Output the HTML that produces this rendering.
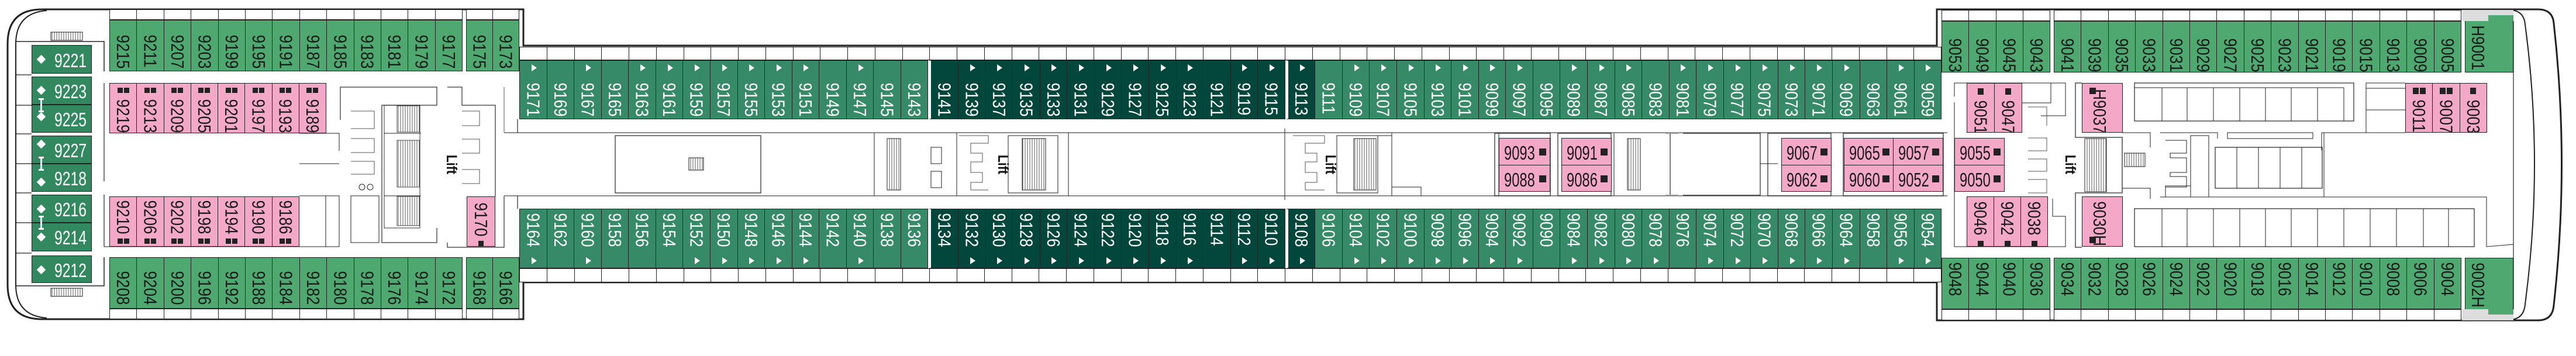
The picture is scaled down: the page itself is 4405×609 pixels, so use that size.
<!DOCTYPE html>
<html><head><meta charset="utf-8">
<style>
*{margin:0;padding:0;box-sizing:border-box}
body{width:4405px;height:609px;background:#fff;position:relative;overflow:hidden;font-family:"Liberation Sans",sans-serif}
svg{position:absolute;left:0;top:0}
.row{position:absolute;display:flex}
.row>div{flex:1;border:1px solid #222;border-left:none;position:relative;display:flex;flex-direction:column;align-items:center;overflow:hidden}
.row>div:first-child{border-left:1px solid #222}
.s>div{background:#fff}
.g>div{background:#4ea870;color:#1a1a1a}
.m>div{background:#378a68;color:#fff}
.m>div.d{background:#03473c}
.m>div.w{border-left:5px solid #fff}
.p>div{background:#f3a8c8;color:#1a1a1a}
.v{writing-mode:vertical-rl;font-size:31px;line-height:1;transform:scaleY(.84);white-space:nowrap}
.t{position:absolute;left:50%;margin-left:-3px;width:0;height:0;border-left:9px solid #fff;border-top:6px solid transparent;border-bottom:6px solid transparent}
.sq{display:flex;gap:2px}
.sq i{display:block;width:9px;height:9px;background:#222}
.lc{position:absolute;background:#32885f;color:#fff;border:1px solid #222;font-size:33px;line-height:1}
.lc b{position:absolute;left:10px;width:11px;height:11px;background:#fff;transform:rotate(45deg)}
.lc span{position:absolute;left:38px;display:inline-block;transform:scaleX(.75);transform-origin:left}
.hp{position:absolute;background:#f3a8c8;border:1px solid #222;font-size:33px;line-height:1;color:#1a1a1a}
.hp span{position:absolute;left:8px;top:8px;display:inline-block;transform:scaleX(.72);transform-origin:left}
.hp i{position:absolute;right:6px;top:17px;width:12px;height:12px;background:#222}
.lift{position:absolute;writing-mode:vertical-rl;font-weight:bold;font-size:25px;color:#111;transform:scaleY(.85)}
</style></head><body>
<svg width="4405" height="609" viewBox="0 0 4405 609">
<defs><pattern id="st" width="4" height="10" patternUnits="userSpaceOnUse"><rect width="4" height="10" fill="#fff"/><line x1="1" y1="0" x2="1" y2="10" stroke="#333" stroke-width="0.8"/></pattern></defs>
<g fill="none" stroke="#222">
<path d="M895,78 L895,16 L72,16 Q13,16 13,75 L13,487 Q13,546 72,546 L895,546 L895,483 L3312,483 L3312,548 L4340,548 Q4365,548 4367,522 Q4394,280 4367,40 Q4365,16 4340,16 L3312,16 L3312,78 Z" stroke-width="3"/>
<path d="M80,18 Q27,22 27,75 L27,487 Q27,540 80,544" stroke-width="2"/>
<path d="M4292,17 Q4316,18 4318,42 Q4350,280 4318,520 Q4316,546 4292,547" stroke-width="2"/>
<polyline points="27,71 178,71 178,122" stroke-width="1.5"/>
<polyline points="27,489 178,489 178,440" stroke-width="1.5"/>
<g stroke-width="1.2">
<line x1="28" y1="128" x2="54" y2="128"/><line x1="28" y1="180" x2="54" y2="180"/><line x1="28" y1="229" x2="54" y2="229"/><line x1="28" y1="280" x2="54" y2="280"/><line x1="28" y1="330" x2="54" y2="330"/><line x1="28" y1="381" x2="54" y2="381"/><line x1="28" y1="433" x2="54" y2="433"/>
</g>
<rect x="87" y="55" width="54" height="14" fill="url(#st)" stroke-width="1"/>
<rect x="87" y="493" width="54" height="14" fill="url(#st)" stroke-width="1"/>
<!-- left pink area walls -->
<line x1="178" y1="142" x2="178" y2="310" stroke-width="1.2"/>
<line x1="178" y1="333" x2="178" y2="422" stroke-width="1.2"/>
<polyline points="512,228 580,228 580,258" stroke-width="1"/>
<line x1="512" y1="280" x2="580" y2="280" stroke-width="1"/>
<polyline points="512,335 580,335 580,422 178,422" stroke-width="1"/>
<line x1="557" y1="335" x2="557" y2="422" stroke-width="1"/>
<!-- left stair/lift block -->
<polyline points="582,205 582,149 747,149 747,180 720,180 653,180 653,415 747,415 747,390" stroke="#555" stroke-width="1.5"/>
<rect x="657" y="180" width="61" height="210" stroke="#333" stroke-width="1"/>
<rect x="679" y="181" width="38" height="45" fill="url(#st)" stroke-width=".8"/>
<rect x="679" y="240" width="38" height="80" fill="url(#st)" stroke-width=".8"/>
<rect x="679" y="336" width="38" height="50" fill="url(#st)" stroke-width=".8"/>
<line x1="657" y1="228" x2="720" y2="228"/><line x1="657" y1="335" x2="720" y2="335"/>
<polyline points="600,190 640,190 640,220 600,220" stroke="#555"/>
<polyline points="600,237 640,237 640,261 600,261" stroke="#555"/>
<polyline points="600,276 640,276 640,298 600,298" stroke="#555"/>
<circle cx="619" cy="320" r="5" stroke-width="1"/><circle cx="633" cy="320" r="5" stroke-width="1"/>
<rect x="600" y="335" width="48" height="80" stroke-width="1"/>
<polyline points="765,149 790,149 790,180 847,180 847,336" stroke="#555" stroke-width="1.5"/>
<polyline points="790,190 820,190 820,215 790,215" stroke="#555"/>
<polyline points="790,238 820,238 820,262 790,262" stroke="#555"/>
<polyline points="790,290 820,290 820,314 790,314" stroke="#555"/>
<polyline points="765,415 765,423 862,423 862,335" stroke="#555" stroke-width="1.5"/>
<polyline points="862,149 862,227" stroke="#555"/>
<!-- corridor -->
<line x1="862" y1="227" x2="3330" y2="227" stroke="#666" stroke-width="1.5"/>
<line x1="862" y1="335" x2="3330" y2="335" stroke="#666" stroke-width="1.5"/>
<line x1="885" y1="204" x2="885" y2="227" stroke-width="1.2"/>
<line x1="885" y1="335" x2="885" y2="357" stroke-width="1.2"/>
<rect x="1052" y="232" width="249" height="98" stroke-width="1.2"/>
<rect x="1178" y="270" width="25" height="21" fill="url(#st)" stroke-width="1"/>
<line x1="1495" y1="227" x2="1495" y2="335"/>
<rect x="1517" y="237" width="23" height="88" fill="url(#st)" stroke-width="1"/>
<rect x="1592" y="252" width="18" height="28" stroke-width="1"/><rect x="1592" y="293" width="18" height="28" stroke-width="1"/>
<!-- lift 1 -->
<polyline points="1636,227 1636,335" />
<polyline points="1640,232 1690,232 1690,245 1660,245 1660,262 1680,262 1680,277 1660,277 1660,295 1680,295 1680,312 1660,312 1660,325 1690,325" stroke="#555"/>
<rect x="1724" y="232" width="85" height="98" stroke-width="1"/>
<rect x="1748" y="237" width="40" height="88" fill="url(#st)" stroke-width="1"/>
<line x1="1827" y1="227" x2="1827" y2="335"/>
<!-- lift 2 -->
<line x1="2197" y1="220" x2="2197" y2="342"/>
<polyline points="2211,232 2265,232 2265,245 2232,245 2232,262 2252,262 2252,277 2232,277 2232,295 2252,295 2252,312 2232,312 2232,325 2265,325" stroke="#555"/>
<rect x="2286" y="232" width="70" height="98" stroke-width="1"/>
<rect x="2315" y="237" width="38" height="88" fill="url(#st)" stroke-width="1"/>
<polyline points="2356,232 2380,232 2380,320 2430,320 2430,335"/>
<line x1="2380" y1="227" x2="2380" y2="335"/>
<!-- middle right structures -->
<rect x="2556" y="228" width="95" height="107" stroke-width="1.2"/>
<line x1="2563" y1="228" x2="2563" y2="335"/>
<rect x="2664" y="228" width="91" height="107" stroke-width="1.2"/>
<line x1="2760" y1="228" x2="2760" y2="335"/>
<rect x="2783" y="237" width="22" height="88" fill="url(#st)" stroke-width="1"/>
<polyline points="2703,228 2745,228" />
<line x1="2856" y1="228" x2="2856" y2="334" stroke-width="1.2"/>
<line x1="2848" y1="228" x2="2870" y2="228" stroke="#999" stroke-width="2"/>
<line x1="2848" y1="334" x2="2870" y2="334" stroke="#999" stroke-width="2"/>
<polyline points="2878,228 3010,228 3010,334 2878,334" stroke-width="1.2"/>
<line x1="3010" y1="280" x2="3040" y2="280"/>
<rect x="3023" y="228" width="108" height="107" stroke-width="1.2"/>
<rect x="3152" y="228" width="171" height="107" stroke-width="1.2"/>
<!-- right section -->
<polyline points="3342,165 3342,142 3532,142 3532,198 3490,198" />
<line x1="3342" y1="175" x2="3342" y2="422"/>
<polyline points="3342,422 3532,422 3532,370 3510,370 3510,340"/>
<polyline points="3457,176 3507,176 3507,142"/>
<polyline points="3468,183 3500,183 3500,215" stroke="#555"/>
<polyline points="3468,236 3500,236 3500,258 3468,258" stroke="#555"/>
<polyline points="3468,272 3500,272 3500,293 3468,293" stroke="#555"/>
<polyline points="3468,307 3500,307 3500,330 3468,330" stroke="#555"/>
<polyline points="3560,142 3549,142 3549,235 3629,235 3629,330 3549,330 3549,423 3560,423" stroke="#777" stroke-width="2"/>
<rect x="3565" y="237" width="37" height="91" fill="url(#st)" stroke-width="1"/>
<rect x="3633" y="262" width="35" height="23" fill="url(#st)" stroke-width="1"/>
<polyline points="3629,227 3677,227 3677,252"/>
<polyline points="3629,322 3677,322 3677,337"/>
<rect x="3650" y="142" width="375" height="65" stroke-width="1.2"/>
<polyline points="3650,150 4008,150 4008,207"/>
<g stroke-width="1"><line x1="3697" y1="150" x2="3697" y2="207"/><line x1="3740" y1="150" x2="3740" y2="207"/><line x1="3785" y1="150" x2="3785" y2="207"/><line x1="3830" y1="150" x2="3830" y2="207"/><line x1="3874" y1="150" x2="3874" y2="207"/><line x1="3918" y1="150" x2="3918" y2="207"/><line x1="3963" y1="150" x2="3963" y2="207"/></g>
<polyline points="4046,227 4046,142 4113,142"/>
<line x1="4046" y1="151" x2="4113" y2="151"/><line x1="4046" y1="188" x2="4113" y2="188"/>
<polyline points="3694,227 3792,227 3792,237"/>
<rect x="3809" y="227" width="146" height="10" stroke-width="1"/>
<polyline points="3970,257 3970,227 4113,227"/>
<line x1="3974" y1="227" x2="3974" y2="337"/>
<polyline points="3703,240 3739,240 3739,262 3711,262 3711,270 3739,270 3739,295 3711,295 3711,302 3739,302 3739,320 3703,320" stroke-width="1"/>
<polyline points="3703,337 3703,318 3746,318"/>
<rect x="3746" y="232" width="31" height="105" stroke-width="1"/>
<rect x="3788" y="252" width="183" height="70" stroke-width="1.2"/>
<g stroke-width="1"><line x1="3825" y1="252" x2="3825" y2="322"/><line x1="3862" y1="252" x2="3862" y2="322"/><line x1="3899" y1="252" x2="3899" y2="322"/><line x1="3936" y1="252" x2="3936" y2="322"/></g>
<polyline points="3694,337 4252,337 4252,422 4298,418"/>
<line x1="3677" y1="337" x2="3677" y2="340"/>
<rect x="3650" y="357" width="581" height="65" stroke-width="1.2"/>
<g stroke-width="1"><line x1="3697" y1="357" x2="3697" y2="422"/><line x1="3740" y1="357" x2="3740" y2="422"/><line x1="3785" y1="357" x2="3785" y2="422"/><line x1="3830" y1="357" x2="3830" y2="422"/><line x1="3874" y1="357" x2="3874" y2="422"/><line x1="3918" y1="357" x2="3918" y2="422"/><line x1="3963" y1="357" x2="3963" y2="422"/><line x1="4008" y1="357" x2="4008" y2="422"/><line x1="4053" y1="357" x2="4053" y2="422"/><line x1="4098" y1="357" x2="4098" y2="422"/><line x1="4144" y1="357" x2="4144" y2="422"/><line x1="4187" y1="357" x2="4187" y2="422"/></g>
<line x1="4298" y1="36" x2="4298" y2="529" stroke-width="1.2"/>
</g>
<rect x="4210" y="17" width="88" height="19" fill="#ddd"/>
<rect x="4255" y="26" width="43" height="10" fill="#4ea870"/>
<rect x="4210" y="529" width="88" height="19" fill="#ddd"/>
<rect x="4255" y="529" width="43" height="9" fill="#4ea870"/>
</svg>

<!-- left top -->
<div class="row s" style="left:187px;top:16px;width:604px;height:18px"><div></div><div></div><div></div><div></div><div></div><div></div><div></div><div></div><div></div><div></div><div></div><div></div><div></div></div>
<div class="row s" style="left:797px;top:16px;width:91px;height:18px"><div></div><div></div></div>
<div class="row g" style="left:187px;top:34px;width:604px;height:88px">
<div style="padding-top:19px"><span class="v">9215</span></div><div style="padding-top:19px"><span class="v">9211</span></div><div style="padding-top:19px"><span class="v">9207</span></div><div style="padding-top:19px"><span class="v">9203</span></div><div style="padding-top:19px"><span class="v">9199</span></div><div style="padding-top:19px"><span class="v">9195</span></div><div style="padding-top:19px"><span class="v">9191</span></div><div style="padding-top:19px"><span class="v">9187</span></div><div style="padding-top:19px"><span class="v">9185</span></div><div style="padding-top:19px"><span class="v">9183</span></div><div style="padding-top:19px"><span class="v">9181</span></div><div style="padding-top:19px"><span class="v">9179</span></div><div style="padding-top:19px"><span class="v">9177</span></div></div>
<div class="row g" style="left:797px;top:34px;width:91px;height:88px"><div style="padding-top:19px"><span class="v">9175</span></div><div style="padding-top:19px"><span class="v">9173</span></div></div>
<!-- left bottom -->
<div class="row g" style="left:187px;top:440px;width:604px;height:88px">
<div style="padding-top:17px"><span class="v">9208</span></div><div style="padding-top:17px"><span class="v">9204</span></div><div style="padding-top:17px"><span class="v">9200</span></div><div style="padding-top:17px"><span class="v">9196</span></div><div style="padding-top:17px"><span class="v">9192</span></div><div style="padding-top:17px"><span class="v">9188</span></div><div style="padding-top:17px"><span class="v">9184</span></div><div style="padding-top:17px"><span class="v">9182</span></div><div style="padding-top:17px"><span class="v">9180</span></div><div style="padding-top:17px"><span class="v">9178</span></div><div style="padding-top:17px"><span class="v">9176</span></div><div style="padding-top:17px"><span class="v">9174</span></div><div style="padding-top:17px"><span class="v">9172</span></div></div>
<div class="row g" style="left:797px;top:440px;width:91px;height:88px"><div style="padding-top:17px"><span class="v">9168</span></div><div style="padding-top:17px"><span class="v">9166</span></div></div>
<div class="row s" style="left:187px;top:528px;width:604px;height:18px"><div></div><div></div><div></div><div></div><div></div><div></div><div></div><div></div><div></div><div></div><div></div><div></div><div></div></div>
<div class="row s" style="left:797px;top:528px;width:91px;height:18px"><div></div><div></div></div>

<!-- left pinks -->
<div class="row p" style="left:187px;top:142px;width:371px;height:86px">
<div><div class="sq" style="margin-top:7px"><i></i><i></i></div><span class="v" style="margin-top:5px">9219</span></div><div><div class="sq" style="margin-top:7px"><i></i><i></i></div><span class="v" style="margin-top:5px">9213</span></div><div><div class="sq" style="margin-top:7px"><i></i><i></i></div><span class="v" style="margin-top:5px">9209</span></div><div><div class="sq" style="margin-top:7px"><i></i><i></i></div><span class="v" style="margin-top:5px">9205</span></div><div><div class="sq" style="margin-top:7px"><i></i><i></i></div><span class="v" style="margin-top:5px">9201</span></div><div><div class="sq" style="margin-top:7px"><i></i><i></i></div><span class="v" style="margin-top:5px">9197</span></div><div><div class="sq" style="margin-top:7px"><i></i><i></i></div><span class="v" style="margin-top:5px">9193</span></div><div><div class="sq" style="margin-top:7px"><i></i><i></i></div><span class="v" style="margin-top:5px">9189</span></div></div>
<div class="row p" style="left:187px;top:336px;width:325px;height:86px">
<div><span class="v">9210</span><div class="sq" style="margin-top:2px"><i></i><i></i></div></div><div><span class="v">9206</span><div class="sq" style="margin-top:2px"><i></i><i></i></div></div><div><span class="v">9202</span><div class="sq" style="margin-top:2px"><i></i><i></i></div></div><div><span class="v">9198</span><div class="sq" style="margin-top:2px"><i></i><i></i></div></div><div><span class="v">9194</span><div class="sq" style="margin-top:2px"><i></i><i></i></div></div><div><span class="v">9190</span><div class="sq" style="margin-top:2px"><i></i><i></i></div></div><div><span class="v">9186</span><div class="sq" style="margin-top:2px"><i></i><i></i></div></div></div>
<div class="row p" style="left:798px;top:336px;width:49px;height:86px"><div><span class="v" style="margin-top:4px">9170</span><div class="sq" style="margin-top:2px"><i style="width:9px;height:11px"></i></div></div></div>

<!-- left column cabins -->
<div class="lc" style="left:54px;top:77px;width:103px;height:49px"><b style="top:18px"></b><span style="top:9px">9221</span></div>
<div class="lc" style="left:54px;top:131px;width:103px;height:48px"><b style="top:17px"></b><span style="top:8px">9223</span></div>
<div class="lc" style="left:54px;top:179px;width:103px;height:48px"><b style="top:14px"></b><span style="top:8px">9225</span></div>
<div class="lc" style="left:54px;top:232px;width:103px;height:48px"><b style="top:8px"></b><span style="top:8px">9227</span></div>
<div class="lc" style="left:54px;top:280px;width:103px;height:48px"><b style="top:25px"></b><span style="top:8px">9218</span></div>
<div class="lc" style="left:54px;top:333px;width:103px;height:48px"><b style="top:18px"></b><span style="top:8px">9216</span></div>
<div class="lc" style="left:54px;top:381px;width:103px;height:49px"><b style="top:18px"></b><span style="top:8px">9214</span></div>
<div class="lc" style="left:54px;top:437px;width:103px;height:47px"><b style="top:18px"></b><span style="top:8px">9212</span></div>
<div style="position:absolute;left:66px;top:168px;width:9px;height:24px;border-top:3px solid #fff;border-bottom:3px solid #fff"><div style="margin:auto;width:3px;height:18px;background:#fff"></div></div>
<div style="position:absolute;left:66px;top:268px;width:9px;height:24px;border-top:3px solid #fff;border-bottom:3px solid #fff"><div style="margin:auto;width:3px;height:18px;background:#fff"></div></div>
<div style="position:absolute;left:66px;top:369px;width:9px;height:24px;border-top:3px solid #fff;border-bottom:3px solid #fff"><div style="margin:auto;width:3px;height:18px;background:#fff"></div></div>

<!-- middle rows -->
<div class="row s" style="left:888px;top:80px;width:2432px;height:23px"><div></div><div></div><div></div><div></div><div></div><div></div><div></div><div></div><div></div><div></div><div></div><div></div><div></div><div></div><div></div><div></div><div></div><div></div><div></div><div></div><div></div><div></div><div></div><div></div><div></div><div></div><div></div><div></div><div></div><div></div><div></div><div></div><div></div><div></div><div></div><div></div><div></div><div></div><div></div><div></div><div></div><div></div><div></div><div></div><div></div><div></div><div></div><div></div><div></div><div></div><div></div><div></div></div>
<div class="row m" style="left:888px;top:103px;width:2432px;height:101px">
<div style="padding-top:32px"><i class="t" style="top:6px"></i><span class="v">9171</span></div>
<div style="padding-top:32px"><span class="v">9169</span></div>
<div style="padding-top:32px"><i class="t" style="top:6px"></i><span class="v">9167</span></div>
<div style="padding-top:32px"><span class="v">9165</span></div>
<div style="padding-top:32px"><i class="t" style="top:6px"></i><span class="v">9163</span></div>
<div style="padding-top:32px"><i class="t" style="top:6px"></i><span class="v">9161</span></div>
<div style="padding-top:32px"><i class="t" style="top:6px"></i><span class="v">9159</span></div>
<div style="padding-top:32px"><i class="t" style="top:6px"></i><span class="v">9157</span></div>
<div style="padding-top:32px"><i class="t" style="top:6px"></i><span class="v">9155</span></div>
<div style="padding-top:32px"><i class="t" style="top:6px"></i><span class="v">9153</span></div>
<div style="padding-top:32px"><i class="t" style="top:6px"></i><span class="v">9151</span></div>
<div style="padding-top:32px"><span class="v">9149</span></div>
<div style="padding-top:32px"><i class="t" style="top:6px"></i><span class="v">9147</span></div>
<div style="padding-top:32px"><span class="v">9145</span></div>
<div style="padding-top:32px"><span class="v">9143</span></div>
<div class="d w" style="padding-top:32px"><span class="v">9141</span></div>
<div class="d" style="padding-top:32px"><i class="t" style="top:6px"></i><span class="v">9139</span></div>
<div class="d" style="padding-top:32px"><i class="t" style="top:6px"></i><span class="v">9137</span></div>
<div class="d" style="padding-top:32px"><i class="t" style="top:6px"></i><span class="v">9135</span></div>
<div class="d" style="padding-top:32px"><i class="t" style="top:6px"></i><span class="v">9133</span></div>
<div class="d" style="padding-top:32px"><i class="t" style="top:6px"></i><span class="v">9131</span></div>
<div class="d" style="padding-top:32px"><i class="t" style="top:6px"></i><span class="v">9129</span></div>
<div class="d" style="padding-top:32px"><i class="t" style="top:6px"></i><span class="v">9127</span></div>
<div class="d" style="padding-top:32px"><i class="t" style="top:6px"></i><span class="v">9125</span></div>
<div class="d" style="padding-top:32px"><i class="t" style="top:6px"></i><span class="v">9123</span></div>
<div class="d" style="padding-top:32px"><span class="v">9121</span></div>
<div class="d" style="padding-top:32px"><i class="t" style="top:6px"></i><span class="v">9119</span></div>
<div class="d" style="padding-top:32px"><i class="t" style="top:6px"></i><span class="v">9115</span></div>
<div class="d w" style="padding-top:32px"><i class="t" style="top:6px"></i><span class="v">9113</span></div>
<div style="padding-top:32px"><span class="v">9111</span></div>
<div style="padding-top:32px"><i class="t" style="top:6px"></i><span class="v">9109</span></div>
<div style="padding-top:32px"><i class="t" style="top:6px"></i><span class="v">9107</span></div>
<div style="padding-top:32px"><i class="t" style="top:6px"></i><span class="v">9105</span></div>
<div style="padding-top:32px"><i class="t" style="top:6px"></i><span class="v">9103</span></div>
<div style="padding-top:32px"><i class="t" style="top:6px"></i><span class="v">9101</span></div>
<div style="padding-top:32px"><i class="t" style="top:6px"></i><span class="v">9099</span></div>
<div style="padding-top:32px"><i class="t" style="top:6px"></i><span class="v">9097</span></div>
<div style="padding-top:32px"><span class="v">9095</span></div>
<div style="padding-top:32px"><i class="t" style="top:6px"></i><span class="v">9089</span></div>
<div style="padding-top:32px"><i class="t" style="top:6px"></i><span class="v">9087</span></div>
<div style="padding-top:32px"><i class="t" style="top:6px"></i><span class="v">9085</span></div>
<div style="padding-top:32px"><span class="v">9083</span></div>
<div style="padding-top:32px"><i class="t" style="top:6px"></i><span class="v">9081</span></div>
<div style="padding-top:32px"><i class="t" style="top:6px"></i><span class="v">9079</span></div>
<div style="padding-top:32px"><i class="t" style="top:6px"></i><span class="v">9077</span></div>
<div style="padding-top:32px"><i class="t" style="top:6px"></i><span class="v">9075</span></div>
<div style="padding-top:32px"><i class="t" style="top:6px"></i><span class="v">9073</span></div>
<div style="padding-top:32px"><i class="t" style="top:6px"></i><span class="v">9071</span></div>
<div style="padding-top:32px"><i class="t" style="top:6px"></i><span class="v">9069</span></div>
<div style="padding-top:32px"><span class="v">9063</span></div>
<div style="padding-top:32px"><i class="t" style="top:6px"></i><span class="v">9061</span></div>
<div style="padding-top:32px"><i class="t" style="top:6px"></i><span class="v">9059</span></div>
</div>
<div class="row m" style="left:888px;top:357px;width:2432px;height:102px">
<div style="padding-top:1px"><span class="v">9164</span><i class="t" style="bottom:6px"></i></div>
<div style="padding-top:1px"><span class="v">9162</span></div>
<div style="padding-top:1px"><span class="v">9160</span><i class="t" style="bottom:6px"></i></div>
<div style="padding-top:1px"><span class="v">9158</span></div>
<div style="padding-top:1px"><span class="v">9156</span></div>
<div style="padding-top:1px"><span class="v">9154</span></div>
<div style="padding-top:1px"><span class="v">9152</span><i class="t" style="bottom:6px"></i></div>
<div style="padding-top:1px"><span class="v">9150</span><i class="t" style="bottom:6px"></i></div>
<div style="padding-top:1px"><span class="v">9148</span><i class="t" style="bottom:6px"></i></div>
<div style="padding-top:1px"><span class="v">9146</span><i class="t" style="bottom:6px"></i></div>
<div style="padding-top:1px"><span class="v">9144</span><i class="t" style="bottom:6px"></i></div>
<div style="padding-top:1px"><span class="v">9142</span></div>
<div style="padding-top:1px"><span class="v">9140</span><i class="t" style="bottom:6px"></i></div>
<div style="padding-top:1px"><span class="v">9138</span></div>
<div style="padding-top:1px"><span class="v">9136</span></div>
<div class="d w" style="padding-top:1px"><span class="v">9134</span></div>
<div class="d" style="padding-top:1px"><span class="v">9132</span><i class="t" style="bottom:6px"></i></div>
<div class="d" style="padding-top:1px"><span class="v">9130</span><i class="t" style="bottom:6px"></i></div>
<div class="d" style="padding-top:1px"><span class="v">9128</span><i class="t" style="bottom:6px"></i></div>
<div class="d" style="padding-top:1px"><span class="v">9126</span><i class="t" style="bottom:6px"></i></div>
<div class="d" style="padding-top:1px"><span class="v">9124</span><i class="t" style="bottom:6px"></i></div>
<div class="d" style="padding-top:1px"><span class="v">9122</span><i class="t" style="bottom:6px"></i></div>
<div class="d" style="padding-top:1px"><span class="v">9120</span><i class="t" style="bottom:6px"></i></div>
<div class="d" style="padding-top:1px"><span class="v">9118</span><i class="t" style="bottom:6px"></i></div>
<div class="d" style="padding-top:1px"><span class="v">9116</span><i class="t" style="bottom:6px"></i></div>
<div class="d" style="padding-top:1px"><span class="v">9114</span></div>
<div class="d" style="padding-top:1px"><span class="v">9112</span><i class="t" style="bottom:6px"></i></div>
<div class="d" style="padding-top:1px"><span class="v">9110</span><i class="t" style="bottom:6px"></i></div>
<div class="d w" style="padding-top:1px"><span class="v">9108</span><i class="t" style="bottom:6px"></i></div>
<div style="padding-top:1px"><span class="v">9106</span></div>
<div style="padding-top:1px"><span class="v">9104</span><i class="t" style="bottom:6px"></i></div>
<div style="padding-top:1px"><span class="v">9102</span><i class="t" style="bottom:6px"></i></div>
<div style="padding-top:1px"><span class="v">9100</span><i class="t" style="bottom:6px"></i></div>
<div style="padding-top:1px"><span class="v">9098</span><i class="t" style="bottom:6px"></i></div>
<div style="padding-top:1px"><span class="v">9096</span><i class="t" style="bottom:6px"></i></div>
<div style="padding-top:1px"><span class="v">9094</span><i class="t" style="bottom:6px"></i></div>
<div style="padding-top:1px"><span class="v">9092</span><i class="t" style="bottom:6px"></i></div>
<div style="padding-top:1px"><span class="v">9090</span></div>
<div style="padding-top:1px"><span class="v">9084</span><i class="t" style="bottom:6px"></i></div>
<div style="padding-top:1px"><span class="v">9082</span><i class="t" style="bottom:6px"></i></div>
<div style="padding-top:1px"><span class="v">9080</span><i class="t" style="bottom:6px"></i></div>
<div style="padding-top:1px"><span class="v">9078</span><i class="t" style="bottom:6px"></i></div>
<div style="padding-top:1px"><span class="v">9076</span></div>
<div style="padding-top:1px"><span class="v">9074</span><i class="t" style="bottom:6px"></i></div>
<div style="padding-top:1px"><span class="v">9072</span><i class="t" style="bottom:6px"></i></div>
<div style="padding-top:1px"><span class="v">9070</span><i class="t" style="bottom:6px"></i></div>
<div style="padding-top:1px"><span class="v">9068</span><i class="t" style="bottom:6px"></i></div>
<div style="padding-top:1px"><span class="v">9066</span><i class="t" style="bottom:6px"></i></div>
<div style="padding-top:1px"><span class="v">9064</span><i class="t" style="bottom:6px"></i></div>
<div style="padding-top:1px"><span class="v">9058</span></div>
<div style="padding-top:1px"><span class="v">9056</span><i class="t" style="bottom:6px"></i></div>
<div style="padding-top:1px"><span class="v">9054</span><i class="t" style="bottom:6px"></i></div>
</div>
<div class="row s" style="left:888px;top:459px;width:2432px;height:24px"><div></div><div></div><div></div><div></div><div></div><div></div><div></div><div></div><div></div><div></div><div></div><div></div><div></div><div></div><div></div><div></div><div></div><div></div><div></div><div></div><div></div><div></div><div></div><div></div><div></div><div></div><div></div><div></div><div></div><div></div><div></div><div></div><div></div><div></div><div></div><div></div><div></div><div></div><div></div><div></div><div></div><div></div><div></div><div></div><div></div><div></div><div></div><div></div><div></div><div></div><div></div><div></div></div>

<!-- middle horizontal pinks -->
<div class="hp" style="left:2563px;top:236px;width:88px;height:47px"><span>9093</span><i></i></div>
<div class="hp" style="left:2563px;top:282px;width:88px;height:46px"><span>9088</span><i></i></div>
<div class="hp" style="left:2670px;top:236px;width:86px;height:47px"><span>9091</span><i></i></div>
<div class="hp" style="left:2670px;top:282px;width:86px;height:46px"><span>9086</span><i></i></div>
<div class="hp" style="left:3046px;top:236px;width:86px;height:47px"><span>9067</span><i></i></div>
<div class="hp" style="left:3046px;top:282px;width:86px;height:46px"><span>9062</span><i></i></div>
<div class="hp" style="left:3153px;top:236px;width:85px;height:47px"><span>9065</span><i></i></div>
<div class="hp" style="left:3153px;top:282px;width:85px;height:46px"><span>9060</span><i></i></div>
<div class="hp" style="left:3237px;top:236px;width:86px;height:47px"><span>9057</span><i></i></div>
<div class="hp" style="left:3237px;top:282px;width:86px;height:46px"><span>9052</span><i></i></div>
<div class="hp" style="left:3342px;top:236px;width:86px;height:47px"><span>9055</span><i></i></div>
<div class="hp" style="left:3342px;top:282px;width:86px;height:46px"><span>9050</span><i></i></div>

<!-- right section rows -->
<div class="row s" style="left:3320px;top:17px;width:186px;height:19px"><div></div><div></div><div></div><div></div></div>
<div class="row s" style="left:3512px;top:17px;width:697px;height:19px"><div></div><div></div><div></div><div></div><div></div><div></div><div></div><div></div><div></div><div></div><div></div><div></div><div></div><div></div><div></div></div>
<div class="row g" style="left:3320px;top:36px;width:186px;height:88px"><div style="padding-top:23px"><span class="v">9053</span></div><div style="padding-top:23px"><span class="v">9049</span></div><div style="padding-top:23px"><span class="v">9045</span></div><div style="padding-top:23px"><span class="v">9043</span></div></div>
<div class="row g" style="left:3512px;top:36px;width:697px;height:88px"><div style="padding-top:23px"><span class="v">9041</span></div><div style="padding-top:23px"><span class="v">9039</span></div><div style="padding-top:23px"><span class="v">9035</span></div><div style="padding-top:23px"><span class="v">9033</span></div><div style="padding-top:23px"><span class="v">9031</span></div><div style="padding-top:23px"><span class="v">9029</span></div><div style="padding-top:23px"><span class="v">9027</span></div><div style="padding-top:23px"><span class="v">9025</span></div><div style="padding-top:23px"><span class="v">9023</span></div><div style="padding-top:23px"><span class="v">9021</span></div><div style="padding-top:23px"><span class="v">9019</span></div><div style="padding-top:23px"><span class="v">9015</span></div><div style="padding-top:23px"><span class="v">9013</span></div><div style="padding-top:23px"><span class="v">9009</span></div><div style="padding-top:23px"><span class="v">9005</span></div></div>
<div class="row g" style="left:4215px;top:36px;width:83px;height:88px"><div style="padding-top:0;align-items:flex-start;border-top:none"><span class="v" style="margin-left:6px">H9001</span></div></div>
<div class="row g" style="left:3320px;top:441px;width:186px;height:88px"><div style="padding-top:1px"><span class="v">9048</span></div><div style="padding-top:1px"><span class="v">9044</span></div><div style="padding-top:1px"><span class="v">9040</span></div><div style="padding-top:1px"><span class="v">9036</span></div></div>
<div class="row g" style="left:3512px;top:441px;width:697px;height:88px"><div style="padding-top:1px"><span class="v">9034</span></div><div style="padding-top:1px"><span class="v">9032</span></div><div style="padding-top:1px"><span class="v">9028</span></div><div style="padding-top:1px"><span class="v">9026</span></div><div style="padding-top:1px"><span class="v">9024</span></div><div style="padding-top:1px"><span class="v">9022</span></div><div style="padding-top:1px"><span class="v">9020</span></div><div style="padding-top:1px"><span class="v">9018</span></div><div style="padding-top:1px"><span class="v">9016</span></div><div style="padding-top:1px"><span class="v">9014</span></div><div style="padding-top:1px"><span class="v">9012</span></div><div style="padding-top:1px"><span class="v">9010</span></div><div style="padding-top:1px"><span class="v">9008</span></div><div style="padding-top:1px"><span class="v">9006</span></div><div style="padding-top:1px"><span class="v">9004</span></div></div>
<div class="row g" style="left:4215px;top:441px;width:83px;height:88px"><div style="padding-top:0;align-items:flex-start;border-bottom:none"><span class="v" style="margin-left:6px">9002H</span></div></div>
<div class="row s" style="left:3320px;top:529px;width:186px;height:19px"><div></div><div></div><div></div><div></div></div>
<div class="row s" style="left:3512px;top:529px;width:697px;height:19px"><div></div><div></div><div></div><div></div><div></div><div></div><div></div><div></div><div></div><div></div><div></div><div></div><div></div><div></div><div></div></div>

<!-- right pinks -->
<div class="row p" style="left:3363px;top:142px;width:95px;height:85px"><div><div class="sq" style="margin-top:8px"><i style="width:10px;height:11px"></i></div><span class="v" style="margin-top:4px">9051</span></div><div><div class="sq" style="margin-top:8px"><i style="width:10px;height:11px"></i></div><span class="v" style="margin-top:4px">9047</span></div></div>
<div class="row p" style="left:3363px;top:336px;width:139px;height:86px"><div><span class="v" style="margin-top:2px">9046</span><div class="sq" style="margin-top:4px"><i style="width:10px;height:11px"></i></div></div><div><span class="v" style="margin-top:2px">9042</span><div class="sq" style="margin-top:4px"><i style="width:10px;height:11px"></i></div></div><div><span class="v" style="margin-top:2px">9038</span><div class="sq" style="margin-top:4px"><i style="width:10px;height:11px"></i></div></div></div>
<div class="row p" style="left:3560px;top:142px;width:70px;height:85px"><div style="align-items:flex-start"><span class="v" style="margin-left:14px;margin-top:2px">H9037</span><i style="position:absolute;left:12px;top:7px;width:11px;height:11px;background:#222"></i></div></div>
<div class="row p" style="left:3560px;top:336px;width:70px;height:86px"><div style="align-items:flex-start"><span class="v" style="margin-left:14px;margin-top:0">9030H</span><i style="position:absolute;left:12px;top:68px;width:11px;height:11px;background:#222"></i></div></div>
<div class="row p" style="left:4113px;top:142px;width:140px;height:85px"><div><div class="sq" style="margin-top:7px"><i style="width:10px;height:11px"></i><i style="width:10px;height:11px"></i></div><span class="v" style="margin-top:4px">9011</span></div><div><div class="sq" style="margin-top:7px"><i style="width:10px;height:11px"></i><i style="width:10px;height:11px"></i></div><span class="v" style="margin-top:4px">9007</span></div><div><div class="sq" style="margin-top:7px"><i style="width:10px;height:11px"></i></div><span class="v" style="margin-top:4px">9003</span></div></div>

<!-- lift labels -->
<div class="lift" style="left:757px;top:262px">Lift</div>
<div class="lift" style="left:1700px;top:262px">Lift</div>
<div class="lift" style="left:2260px;top:262px">Lift</div>
<div class="lift" style="left:3525px;top:262px">Lift</div>
</body></html>
